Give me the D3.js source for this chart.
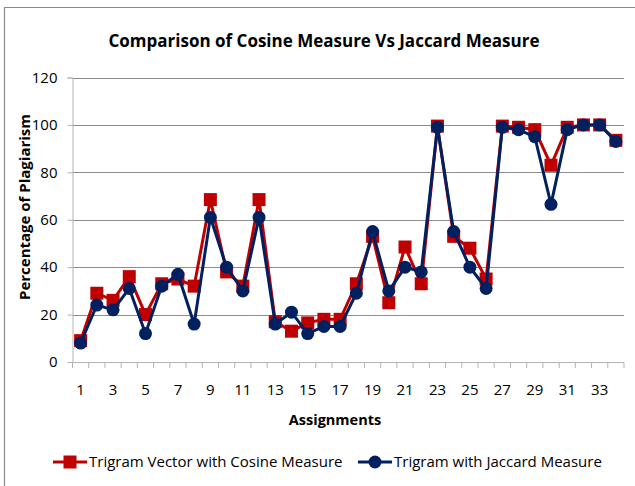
<!DOCTYPE html>
<html>
<head>
<meta charset="utf-8">
<script src="https://cdn.jsdelivr.net/npm/d3@7"></script>
<style>
  body { margin: 0; background: #fff; }
  text { font-family: "Open Sans", "Noto Sans", sans-serif; fill: #000; }
</style>
</head>
<body>
<div id="chart"></div>
<script>
// chart data
var assignments = d3.range(1, 35);
var cosineVals = [9, 29, 26, 36, 20, 33, 35, 32, 68.5, 38, 32, 68.5, 17, 13, 16.5, 18, 18, 33, 53, 25,
                  48.5, 33, 99.5, 53, 48, 35, 99.5, 99, 98, 83, 99, 100, 100, 93.5];
var jaccardVals = [8, 24, 22, 31, 12, 32, 37, 16, 61, 40, 30, 61, 16, 21, 12, 15, 15, 29, 55, 30,
                   40, 38, 99, 55, 40, 31, 99, 98, 95, 66.5, 98, 100, 100, 93];
var yTicks = [0, 20, 40, 60, 80, 100, 120];
var seriesNames = ["Trigram Vector with Cosine Measure", "Trigram with Jaccard Measure"];

var svg_width = 635;
var svg_height = 486;
var redColor = "#C00000";
var blueColor = "#002060";

var svg = d3.select("#chart")
	.append("svg")
	.attr("width", svg_width)
	.attr("height", svg_height);

// outer frame (top + left edges visible)
svg.append("path")
	.attr("d", "M4.5,486 V7.5 H635")
	.style("fill", "none")
	.style("stroke", "#8a8a8a")
	.style("stroke-width", "1.2px");

// scales
var x = d3.scaleBand()
	.domain(assignments)
	.range([72.5, 624]);

var y = d3.scaleLinear()
	.domain([0, 120])
	.range([362, 77.5]);

// gridlines
svg.append("g")
	.selectAll("line")
	.data(yTicks.filter(function(d) { return d > 0; }))
	.enter().append("line")
	.attr("x1", 72.5)
	.attr("x2", 624)
	.attr("y1", function(d) { return Math.round(y(d)) + 0.5; })
	.attr("y2", function(d) { return Math.round(y(d)) + 0.5; })
	.style("stroke", "#8c8c8c")
	.style("stroke-width", "1px");

// y axis
var yAxis = d3.axisLeft(y)
	.tickValues(yTicks)
	.tickSize(5)
	.tickPadding(10);

var yg = svg.append("g")
	.attr("transform", "translate(72.5,0)")
	.call(yAxis);
yg.selectAll("path, line").style("stroke", "#b3b3b3");
yg.selectAll("text").style("font-size", "15px");

// x axis: ticks at category boundaries, labels on odd categories
var xg = svg.append("g");
xg.append("line")
	.attr("x1", 72.5).attr("x2", 624)
	.attr("y1", 362.5).attr("y2", 362.5)
	.style("stroke", "#b3b3b3");
xg.selectAll(".xtick")
	.data(assignments.concat([35]))
	.enter().append("line")
	.attr("class", "xtick")
	.attr("x1", function(d) { return d === 35 ? 624 : x(d); })
	.attr("x2", function(d) { return d === 35 ? 624 : x(d); })
	.attr("y1", 362.5).attr("y2", 368)
	.style("stroke", "#b3b3b3");
xg.selectAll(".xlabel")
	.data(assignments.filter(function(d) { return d % 2 === 1; }))
	.enter().append("text")
	.attr("class", "xlabel")
	.attr("x", function(d) { return x(d) + x.bandwidth() / 2; })
	.attr("y", 395)
	.style("text-anchor", "middle")
	.style("font-size", "15px")
	.text(function(d) { return d; });

// series lines
var line = d3.line()
	.x(function(d, i) { return x(assignments[i]) + x.bandwidth() / 2; })
	.y(function(d) { return y(d); });

svg.append("path")
	.datum(cosineVals)
	.attr("d", line)
	.style("fill", "none")
	.style("stroke", redColor)
	.style("stroke-width", "3px");

svg.selectAll(".sq")
	.data(cosineVals)
	.enter().append("rect")
	.attr("class", "sq")
	.attr("x", function(d, i) { return x(assignments[i]) + x.bandwidth() / 2 - 6.5; })
	.attr("y", function(d) { return y(d) - 6.5; })
	.attr("width", 13)
	.attr("height", 13)
	.style("fill", redColor);

svg.append("path")
	.datum(jaccardVals)
	.attr("d", line)
	.style("fill", "none")
	.style("stroke", blueColor)
	.style("stroke-width", "3px");

svg.selectAll(".dot")
	.data(jaccardVals)
	.enter().append("circle")
	.attr("class", "dot")
	.attr("cx", function(d, i) { return x(assignments[i]) + x.bandwidth() / 2; })
	.attr("cy", function(d) { return y(d); })
	.attr("r", 6.5)
	.style("fill", blueColor);

// titles
svg.append("text")
	.attr("x", 324)
	.attr("y", 47)
	.style("text-anchor", "middle")
	.style("font-size", "17px")
	.style("font-weight", "bold")
	.text("Comparison of Cosine Measure Vs Jaccard Measure");

svg.append("text")
	.attr("x", 335)
	.attr("y", 425)
	.style("text-anchor", "middle")
	.style("font-size", "14.5px")
	.style("font-weight", "bold")
	.text("Assignments");

svg.append("text")
	.attr("transform", "translate(30,207) rotate(-90)")
	.style("text-anchor", "middle")
	.style("font-size", "15px")
	.style("font-weight", "bold")
	.text("Percentage of Plagiarism");

// legend
var legend = svg.append("g").attr("transform", "translate(0,462)");
var legendItems = [
	{ name: seriesNames[0], color: redColor, shape: "square", x0: 53 },
	{ name: seriesNames[1], color: blueColor, shape: "circle", x0: 358 }
];
legendItems.forEach(function(item) {
	legend.append("line")
		.attr("x1", item.x0).attr("x2", item.x0 + 34)
		.attr("y1", 0).attr("y2", 0)
		.style("stroke", item.color)
		.style("stroke-width", "3px");
	if (item.shape === "square") {
		legend.append("rect")
			.attr("x", item.x0 + 17 - 6.5).attr("y", -6.5)
			.attr("width", 13).attr("height", 13)
			.style("fill", item.color);
	} else {
		legend.append("circle")
			.attr("cx", item.x0 + 17).attr("cy", 0)
			.attr("r", 6.5)
			.style("fill", item.color);
	}
	legend.append("text")
		.attr("x", item.x0 + 36)
		.attr("y", 5)
		.style("font-size", "15px")
		.text(item.name);
});
</script>
</body>
</html>
